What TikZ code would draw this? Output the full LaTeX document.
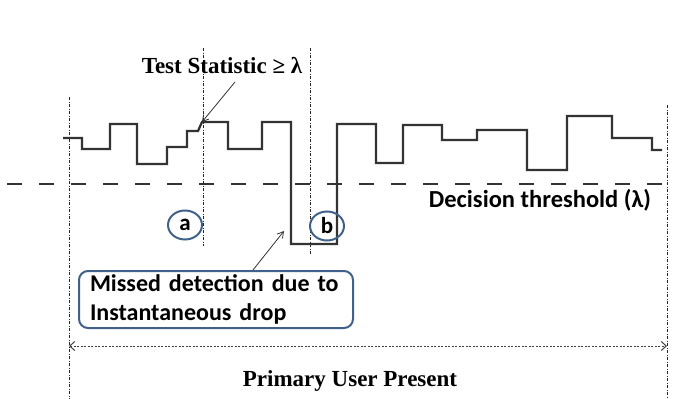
\documentclass[tikz,border=0pt]{standalone}
\usepackage{fontspec}
\setmainfont{Liberation Serif}
\newfontfamily\calib{Carlito}
\usetikzlibrary{arrows.meta,shapes.geometric}
\definecolor{wave}{HTML}{333333}
\definecolor{boxblue}{HTML}{40618A}
\tikzset{
  vline/.style={line width=1pt, draw=black!85, dash pattern=on 3pt off 1.5pt on 1pt off 1.5pt},
  waveline/.style={line width=2.2pt, draw=wave, line join=miter},
  thresh/.style={line width=2pt, draw=wave, dash pattern=on 15pt off 17pt},
  callout/.style={line width=0.8pt, draw=black!80, -{Straight Barb[length=6pt,width=7pt]}},
  tagcirc/.style={ellipse, draw=boxblue, line width=2pt, minimum width=34pt, minimum height=29pt, inner sep=0pt, font=\calib\bfseries\fontsize{23}{26}\selectfont},
  notebox/.style={draw=boxblue, line width=2pt, rounded corners=9pt, minimum width=274pt, minimum height=57pt, text width=252pt, align=left, inner xsep=11pt, font=\calib\bfseries\fontsize{24}{29}\selectfont},
  serifbold/.style={font=\bfseries\fontsize{23}{27}\selectfont},
}
\begin{document}
\begin{tikzpicture}[x=1pt,y=-1pt]
\path[use as bounding box, fill=white] (0,0) rectangle (678,399);
% vertical guide lines
\coordinate (l1t) at (69,97);  \coordinate (l1b) at (69,399);
\coordinate (l2t) at (203,48); \coordinate (l2b) at (203,246);
\coordinate (l3t) at (310,48); \coordinate (l3b) at (310,255);
\coordinate (l4t) at (667,105); \coordinate (l4b) at (667,399);
\draw[vline] (l1t) -- (l1b);
\draw[vline] (l2t) -- (l2b);
\draw[vline] (l3t) -- (l3b);
\draw[vline] (l4t) -- (l4b);
% threshold
\coordinate (th1) at (7,184); \coordinate (th2) at (678,184);
\draw[thresh] (th1) -- (th2);
% waveform
\draw[waveline] (63,138) -- (82,138) -- (82,149) -- (110,149) -- (110,124) -- (137,124)
  -- (137,164) -- (167,164) -- (167,147) -- (187,147) -- (187,131) -- (198,131) -- (202,122)
  -- (228,122) -- (228,149) -- (262,149) -- (262,122) -- (291,122) -- (291,244) -- (337,244)
  -- (337,124) -- (376,124) -- (376,163) -- (403,163) -- (403,125) -- (442,125) -- (442,140)
  -- (477,140) -- (477,130) -- (527,130) -- (527,170) -- (567,170) -- (567,116) -- (612,116)
  -- (612,138) -- (652,138) -- (652,150) -- (662,150);
% labels
\node[serifbold, anchor=base] (ts) at (222,73) {Test Statistic ≥ λ};
\coordinate (tsend) at (202,122);
\draw[callout] (235,82) -- (tsend);
\node[font=\calib\bfseries\fontsize{24.5}{29}\selectfont, anchor=base] (dt) at (540,207) {Decision threshold (λ)};
\node[tagcirc] (a) at (185,225) {a};
\node[tagcirc] (b) at (327,226) {b};
\node[notebox, anchor=north west] (note) at (78,270) {Missed detection due to\\Instantaneous drop};
\coordinate (drop) at (284,231);
\draw[callout] (note.north west -| 253,0) -- (drop);
% bottom span
\coordinate (pl) at (69,346); \coordinate (pr) at (667,346);
\draw[line width=1pt, draw=black!75, dash pattern=on 2pt off 1.5pt, {Straight Barb[length=5pt,width=9pt]}-{Straight Barb[length=5pt,width=9pt]}] (pl) -- (pr);
\node[serifbold, anchor=base] (pu) at (350,386) {Primary User Present};
\end{tikzpicture}
\end{document}
